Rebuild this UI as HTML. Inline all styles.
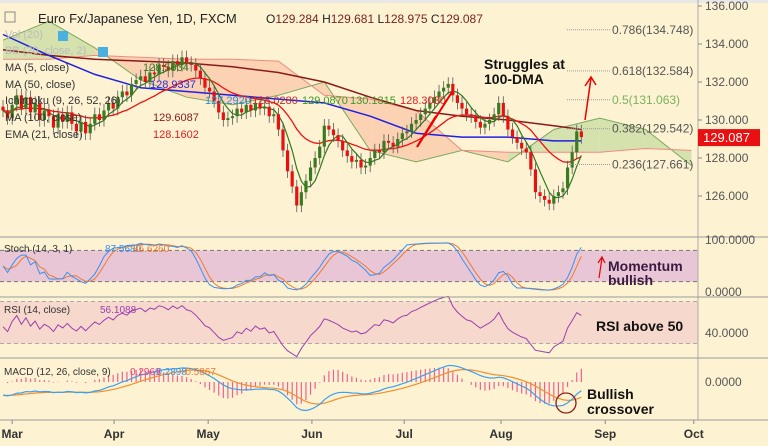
<!DOCTYPE html>
<html><head><meta charset="utf-8"><style>
body{margin:0;background:#fdf3d2;}
svg{display:block;font-family:"Liberation Sans",sans-serif;}
</style></head><body>
<svg id="c" width="768" height="446" viewBox="0 0 768 446">
<rect x="0" y="0" width="768" height="446" fill="#fdf3d2"/>
<rect x="0" y="0" width="768" height="3" fill="#e8e8e8"/>
<g id="cloud"></g>
<g id="lines"></g>
<g id="candles"></g>
<g id="fib"></g>
<g id="lower"></g>
<g id="axes"></g>
<g font-size="13">
<rect x="5" y="12" width="10" height="10" fill="none" stroke="#888"/>
<text x="38" y="23" fill="#222">Euro Fx/Japanese Yen, 1D, FXCM</text>
<text x="266" y="23" fill="#222" font-size="12">O<tspan fill="#7a1f1f">129.284</tspan>  H<tspan fill="#7a1f1f">129.681</tspan>  L<tspan fill="#7a1f1f">128.975</tspan>  C<tspan fill="#7a1f1f">129.087</tspan></text>
</g>
<g font-size="11">
<text x="5" y="38" fill="#bbb">Vol (20)</text>
<rect x="58" y="31" width="10" height="10" fill="#4ab0e0"/>
<text x="5" y="54" fill="#bbb">BB (20, close, 2)</text>
<rect x="98" y="47" width="10" height="10" fill="#4ab0e0"/>
<text x="5" y="71" fill="#333">MA (5, close)</text>
<text x="143" y="71" fill="#3a7d22">128.5034</text>
<text x="5" y="88" fill="#333">MA (50, close)</text>
<text x="150" y="88" fill="#2a2ad8">128.9337</text>
<text x="5" y="104" fill="#333">Ichimoku (9, 26, 52, 26)</text>
<text x="205" y="104" fill="#2a90e0">127.2920</text>
<text x="252" y="104" fill="#c03030">128.0280</text>
<text x="302" y="104" fill="#3a9a22">129.0870</text>
<text x="350" y="104" fill="#3a9a22">130.1315</text>
<text x="400" y="104" fill="#e02020">128.3030</text>
<text x="5" y="121" fill="#333">MA (100, close)</text>
<text x="153" y="121" fill="#8a1a1a">129.6087</text>
<text x="5" y="138" fill="#333">EMA (21, close)</text>
<text x="153" y="138" fill="#e02020">128.1602</text>
</g>
<g font-weight="bold">
<text x="484" y="69" font-size="14" fill="#111">Struggles at</text>
<text x="484" y="84" font-size="14" fill="#111">100-DMA</text>
<line x1="585" y1="120" x2="591" y2="78" stroke="#e00" stroke-width="1.5"/>
<polyline points="585,86 591,77 596,85" fill="none" stroke="#e00" stroke-width="1.5"/>
<line x1="417" y1="147" x2="452" y2="92" stroke="#e00" stroke-width="2"/>
<line x1="417" y1="147" x2="436" y2="116" stroke="#e00" stroke-width="2"/>
<text x="608" y="271" font-size="14" fill="#3a1a40">Momentum</text>
<text x="608" y="285" font-size="14" fill="#3a1a40">bullish</text>
<line x1="599" y1="278" x2="602" y2="258" stroke="#e00" stroke-width="1.2"/>
<polyline points="598,263 602,257 605,263" fill="none" stroke="#e00" stroke-width="1.2"/>
<text x="596" y="331" font-size="14" fill="#111">RSI above 50</text>
<text x="587" y="399" font-size="14" fill="#111">Bullish</text>
<text x="587" y="414" font-size="14" fill="#111">crossover</text>
<circle cx="566" cy="403" r="10" fill="none" stroke="#8a1a1a" stroke-width="1.3"/>
</g>
</svg>
<script>
const closes=[130.5,130.1,130.8,131.3,130.6,131.2,130.4,130.9,130.0,130.5,130.2,
129.6,130.3,129.9,130.4,129.8,129.4,129.9,129.3,
129.8,130.3,130.0,130.5,130.9,130.6,131.2,131.5,
131.3,131.9,132.1,132.3,132.0,132.5,132.4,132.9,132.8,
132.6,133.1,132.9,133.3,133.0,132.9,132.6,
132.2,131.7,131.5,131.0,130.4,130.0,130.1,130.2,
130.6,130.4,130.8,130.5,130.9,130.6,130.7,130.2,130.3,129.5,
128.4,127.3,126.5,125.5,126.2,126.8,
127.5,128.0,128.6,129.7,129.5,129.2,
128.9,128.4,128.1,127.8,127.9,127.5,127.6,128.0,
128.4,128.3,128.9,128.8,128.6,129.0,129.3,129.4,129.8,130.0,
130.3,130.6,130.9,131.2,131.5,131.7,131.9,131.3,
130.9,130.6,130.3,130.2,129.9,129.6,129.8,130.0,130.3,130.9,
130.2,129.5,129.1,128.8,128.5,128.3,127.4,
126.2,126.0,125.8,125.6,126.0,126.2,126.4,127.5,128.3,129.4,129.1];
const ma50Samples=[134.5,133.4,132.4,131.7,131.5,131.3,131.1,130.9,130.2,129.3,129.1,129.1,128.9,128.9];
const ma100Samples=[133.7,133.4,133.2,133.1,133.0,132.8,132.5,132.0,131.2,130.5,130.2,130.0,129.7,129.5];
const spanA=[134.2,135.2,133.8,132.1,131.2,130.8,131.3,132.0,128.4,127.8,128.4,127.8,129.5,130.1,129.5,127.6];
const spanB=[133.2,133.2,133.4,133.3,133.2,133.2,133.1,131.3,131.1,130.5,128.4,128.3,128.3,128.3,128.5,128.4];
const fibLevels=[0.786,0.618,0.5,0.382,0.236];
const fibPrices=[134.748,132.584,131.063,129.542,127.661];
const priceTicks=[136,134,132,130,128,126];
const months=["Mar","Apr","May","Jun","Jul","Aug","Sep","Oct"];
const monthIdx=[2,24.2,44.7,67.3,87.4,108.5,131.2,150.5];

const NS="http://www.w3.org/2000/svg";
const X=i=>3+i*4.59;
const Y=p=>6+(136-p)*19;
function mk(tag,attrs,parent){const e=document.createElementNS(NS,tag);for(const k in attrs)e.setAttribute(k,attrs[k]);parent.appendChild(e);return e;}
const gCloud=document.getElementById('cloud'),gLines=document.getElementById('lines'),gC=document.getElementById('candles'),gF=document.getElementById('fib'),gL=document.getElementById('lower'),gA=document.getElementById('axes');

for(let s=0;s<spanA.length-1;s++){
  const i0=s*10,i1=(s+1)*10;
  const up=(spanA[s]+spanA[s+1])>(spanB[s]+spanB[s+1]);
  const p=mk('polygon',{points:`${X(i0)},${Y(spanA[s])} ${X(i1)},${Y(spanA[s+1])} ${X(i1)},${Y(spanB[s+1])} ${X(i0)},${Y(spanB[s])}`,fill:up?'#c8dca0':'#f9c8a8','fill-opacity':'0.75',stroke:'none'},gCloud);
  
  
}
const pa=mk('polyline',{points:spanA.map((v,s)=>X(s*10)+','+Y(v)).join(' '),fill:'none',stroke:'#7aa860','stroke-width':1},gCloud);


const pb=mk('polyline',{points:spanB.map((v,s)=>X(s*10)+','+Y(v)).join(' '),fill:'none',stroke:'#f08a80','stroke-width':1},gCloud);



function sampleIdx(k,n){return k<n-1?k*10:closes.length-1;}
const m100=mk('polyline',{points:ma100Samples.map((v,k)=>X(sampleIdx(k,ma100Samples.length))+','+Y(v)).join(' '),fill:'none',stroke:'#8a1a1a','stroke-width':1.5},gLines);


const m50=mk('polyline',{points:ma50Samples.map((v,k)=>X(sampleIdx(k,ma50Samples.length))+','+Y(v)).join(' '),fill:'none',stroke:'#2020e0','stroke-width':1.5},gLines);


let ema=[],e=closes[0];closes.forEach((c,i)=>{e=i?e+(c-e)*2/22:c;ema.push(e);});
const em=mk('polyline',{points:ema.map((v,i)=>X(i)+','+Y(v)).join(' '),fill:'none',stroke:'#f01010','stroke-width':1.3},gLines);


const ma5=closes.map((c,i)=>{const s=closes.slice(Math.max(0,i-4),i+1);return s.reduce((a,b)=>a+b,0)/s.length;});
const m5=mk('polyline',{points:ma5.map((v,i)=>X(i)+','+Y(v)).join(' '),fill:'none',stroke:'#2e7a1e','stroke-width':1.2},gLines);



closes.forEach((c,i)=>{
  const o=i?closes[i-1]:c+0.2;const up=c>=o;const col=up?'#3a7a22':'#e81010';
  const hi=Math.max(o,c)+0.35,lo=Math.min(o,c)-0.35;
  const w=mk('line',{x1:X(i),x2:X(i),y1:Y(hi),y2:Y(lo),stroke:'#555','stroke-width':0.8},gC);
  
  
  const b=mk('rect',{x:X(i)-1.6,y:Y(Math.max(o,c)),width:3.2,height:Math.max(1,Math.abs(Y(o)-Y(c))),fill:col},gC);
  
  
});

fibLevels.forEach((l,k)=>{
  const y=Y(fibPrices[k]);
  const ln=mk('line',{x1:567,x2:610,y1:y,y2:y,stroke:'#999','stroke-dasharray':'1,1'},gF);
  
  
  const t=mk('text',{x:612,y:y+4,'font-size':12,fill:l===0.5?'#7ab060':'#555'},gF);
  t.textContent=l+'('+fibPrices[k].toFixed(3)+')';
  
  
});

const ax=mk('line',{x1:698,x2:698,y1:0,y2:420,stroke:'#aaa'},gA);


priceTicks.forEach(p=>{
  const t=mk('text',{x:705,y:Y(p)+4,'font-size':12,fill:'#555'},gA);t.textContent=p.toFixed(3);
  
  
  const tk=mk('line',{x1:698,x2:702,y1:Y(p),y2:Y(p),stroke:'#888'},gA);
  
  
});
const last=closes[closes.length-1];
const lb=mk('rect',{x:698,y:Y(last)-8,width:62,height:17,fill:'#e81010'},gA);


const lt=mk('text',{x:703,y:Y(last)+5,'font-size':13,fill:'#fff'},gA);lt.textContent='129.087';


[237,297,358,420].forEach(y=>{const l=mk('line',{x1:0,x2:768,y1:y,y2:y,stroke:'#999'},gA);
  
  });
months.forEach((m,k)=>{
  const x=X(monthIdx[k]);
  const t=mk('text',{x:x,y:438,'font-size':12,'font-weight':'bold',fill:'#333','text-anchor':'middle'},gA);t.textContent=m;
  
  
  const tk=mk('line',{x1:x,x2:x,y1:420,y2:424,stroke:'#888'},gA);
  
  
});
[['100.0000',244],['0.0000',296],['40.0000',337],['0.0000',386]].forEach(([s,y])=>{
  const t=mk('text',{x:705,y:y,'font-size':12,fill:'#555'},gA);t.textContent=s;
  
  
});

const kArr=closes.map((c,i)=>{const s=closes.slice(Math.max(0,i-13),i+1);const h=Math.max(...s)+0.2,l=Math.min(...s)-0.2;return 100*(c-l)/(h-l);});
const kS=kArr.map((v,i)=>{const s=kArr.slice(Math.max(0,i-2),i+1);return s.reduce((a,b)=>a+b,0)/s.length;});
const dS=kS.map((v,i)=>{const s=kS.slice(Math.max(0,i-2),i+1);return s.reduce((a,b)=>a+b,0)/s.length;});
const SY=v=>292-v*0.52;
const sb=mk('rect',{x:0,y:SY(80),width:698,height:SY(20)-SY(80),fill:'#e8c6d6'},gL);


[80,20].forEach(v=>{const l=mk('line',{x1:0,x2:698,y1:SY(v),y2:SY(v),stroke:'#777','stroke-dasharray':'4,3'},gL);
  
  });
const sd=mk('polyline',{points:dS.map((v,i)=>X(i)+','+SY(v)).join(' '),fill:'none',stroke:'#f07a30','stroke-width':1},gL);


const sk=mk('polyline',{points:kS.map((v,i)=>X(i)+','+SY(v)).join(' '),fill:'none',stroke:'#3a90f0','stroke-width':1},gL);



let ag=0.12,al=0.14;const rsi=[46];
for(let i=1;i<closes.length;i++){const d=closes[i]-closes[i-1];ag=(ag*13+Math.max(d,0))/14;al=(al*13+Math.max(-d,0))/14;rsi.push(al===0?70:100-100/(1+ag/al));}
const RY=v=>333-(v-40)*1.05;
const rb=mk('rect',{x:0,y:RY(70),width:698,height:RY(30)-RY(70),fill:'#f6d8cc'},gL);


[70,30].forEach(v=>{const l=mk('line',{x1:0,x2:698,y1:RY(v),y2:RY(v),stroke:'#aaa','stroke-dasharray':'4,3'},gL);
  
  });
const rl=mk('polyline',{points:rsi.map((v,i)=>X(i)+','+RY(v)).join(' '),fill:'none',stroke:'#9a40b0','stroke-width':1},gL);



let e12=closes[0]+0.6,e26=closes[0]+1.2;const macd=[];closes.forEach(c=>{e12+= (c-e12)*2/13;e26+=(c-e26)*2/27;macd.push(e12-e26);});
let sg=-0.6;const sig=macd.map(v=>sg+=(v-sg)*2/10);
const MY=v=>382-v*22;
macd.forEach((v,i)=>{const h=v-sig[i];const b=mk('line',{x1:X(i),x2:X(i),y1:MY(0),y2:MY(h*2),stroke:'#f06090','stroke-width':1.2},gL);
  
  });
const ms=mk('polyline',{points:sig.map((v,i)=>X(i)+','+MY(v)).join(' '),fill:'none',stroke:'#f09030','stroke-width':1.2},gL);


const ml=mk('polyline',{points:macd.map((v,i)=>X(i)+','+MY(v)).join(' '),fill:'none',stroke:'#3aa0f0','stroke-width':1.2},gL);



[['Stoch (14, 3, 1)',4,252,'#333'],['87.5680',105,252,'#3a90f0'],['86.6260',133,252,'#f07a30'],
 ['RSI (14, close)',4,313,'#333'],['56.1088',100,313,'#9a40b0'],
 ['MACD (12, 26, close, 9)',4,375,'#333'],['0.2969',130,375,'#f04080'],['-0.2898',153,375,'#3a90f0'],['-0.5867',182,375,'#f07a30']].forEach(([s,x,y,c])=>{
  const t=mk('text',{x:x,y:y,'font-size':10,fill:c},gL);t.textContent=s;
  
  
});
</script>
</body></html>
